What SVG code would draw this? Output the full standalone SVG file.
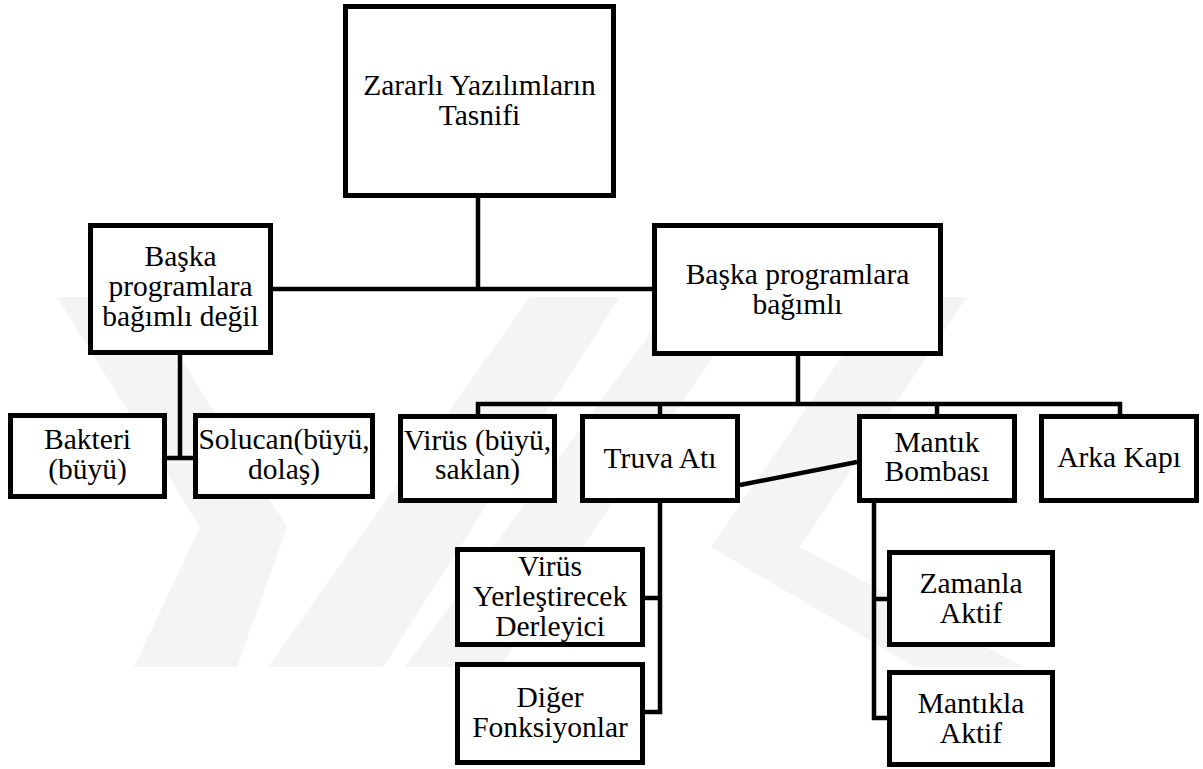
<svg xmlns="http://www.w3.org/2000/svg" width="1203" height="769" viewBox="0 0 1203 769">
<style>
.box{fill:#fff;stroke:#000;stroke-width:5}
.con{fill:none;stroke:#000;stroke-width:4.5;stroke-linecap:butt;stroke-linejoin:miter}
.wm{fill:#f4f4f4;stroke:none}
text{font-family:"Liberation Serif","Times New Roman",serif;font-size:29.5px;fill:#000;text-anchor:middle}
</style>
<rect width="1203" height="769" fill="#fff"/>
<g id="watermark">
<polygon class="wm" points="57,297 142,297 287,527 237,667 134,667 200,527"/>
<polygon class="wm" points="268,667 383,667 620,297 530,297"/>
<polygon class="wm" points="405,667 500,667 754,297 677,297"/>
<polygon class="wm" points="883,297 967,297 800,547 1023,667 915,667 711,547"/>
</g>
<g id="connectors">
<path class="con" d="M478,198 V289 M273,289 H652"/>
<path class="con" d="M180,355 V458 M167,458 H193"/>
<path class="con" d="M798,356 V404 M478,416 V404 H1120 V416 M660,404 V416 M937,404 V416"/>
<path class="con" d="M740,485 L857,462"/>
<path class="con" d="M660,503 V712 H645 M645,598 H660"/>
<path class="con" d="M874,503 V718 H887 M874,599 H887"/>
</g>
<g id="n-root"><rect class="box" x="345.5" y="6.5" width="268" height="189"/><text x="479.5" y="95">Zararlı Yazılımların</text><text x="479.5" y="125">Tasnifi</text></g>
<g id="n-indep"><rect class="box" x="90.5" y="225.5" width="180" height="127"/><text x="180.5" y="266">Başka</text><text x="180.5" y="296">programlara</text><text x="180.5" y="326">bağımlı değil</text></g>
<g id="n-dep"><rect class="box" x="654.5" y="225.5" width="286" height="128"/><text x="797.5" y="284">Başka programlara</text><text x="797.5" y="314">bağımlı</text></g>
<g id="n-bakteri"><rect class="box" x="10.5" y="415.5" width="154" height="81"/><text x="87.5" y="449">Bakteri</text><text x="87.5" y="479">(büyü)</text></g>
<g id="n-solucan"><rect class="box" x="195.5" y="415.5" width="177" height="81"/><text x="284" y="449">Solucan(büyü,</text><text x="284" y="479">dolaş)</text></g>
<g id="n-virus"><rect class="box" x="400.5" y="416.5" width="154" height="84"/><text x="477.5" y="450">Virüs (büyü,</text><text x="477.5" y="479">saklan)</text></g>
<g id="n-truva"><rect class="box" x="582.5" y="416.5" width="155" height="84"/><text x="660" y="468">Truva Atı</text></g>
<g id="n-mantik"><rect class="box" x="859.5" y="416.5" width="155" height="84"/><text x="937" y="452">Mantık</text><text x="937" y="481">Bombası</text></g>
<g id="n-arka"><rect class="box" x="1041.5" y="416.5" width="155" height="84"/><text x="1119" y="467">Arka Kapı</text></g>
<g id="n-vyd"><rect class="box" x="457.5" y="549.5" width="185" height="95"/><text x="550" y="576">Virüs</text><text x="550" y="606">Yerleştirecek</text><text x="550" y="636">Derleyici</text></g>
<g id="n-diger"><rect class="box" x="457.5" y="664.5" width="185" height="98"/><text x="550" y="707">Diğer</text><text x="550" y="737">Fonksiyonlar</text></g>
<g id="n-zaman"><rect class="box" x="889.5" y="552.5" width="163" height="92"/><text x="971" y="593">Zamanla</text><text x="971" y="623">Aktif</text></g>
<g id="n-mantikla"><rect class="box" x="889.5" y="672.5" width="163" height="92"/><text x="971" y="713">Mantıkla</text><text x="971" y="743">Aktif</text></g>
</svg>
